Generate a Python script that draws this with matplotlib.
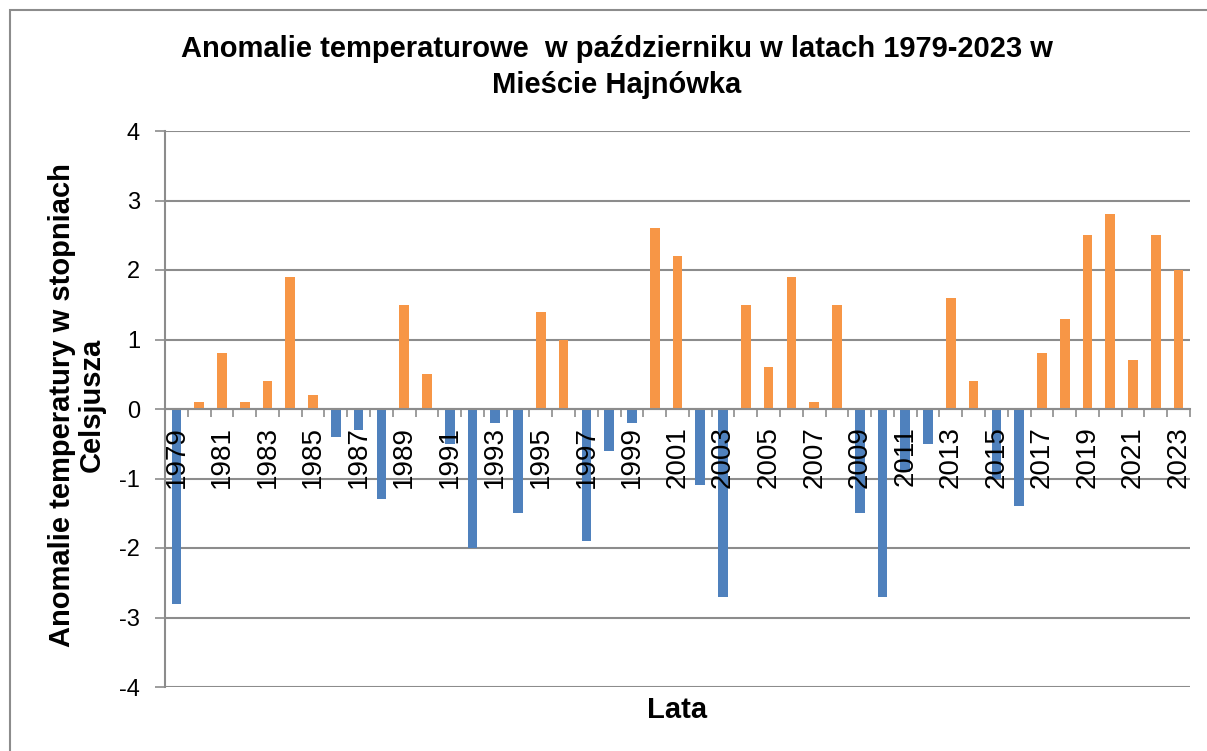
import numpy as np
import matplotlib.pyplot as plt
from matplotlib.patches import Rectangle

# dane: anomalie temperatury w październiku
years = list(range(1979, 2024))
anomalies = [-2.8, 0.1, 0.8, 0.1, 0.4, 1.9, 0.2, -0.4, -0.3, -1.3,
             1.5, 0.5, -0.5, -2.0, -0.2, -1.5, 1.4, 1.0, -1.9, -0.6,
             -0.2, 2.6, 2.2, -1.1, -2.7, 1.5, 0.6, 1.9, 0.1, 1.5,
             -1.5, -2.7, -0.9, -0.5, 1.6, 0.4, -1.0, -1.4, 0.8, 1.3,
             2.5, 2.8, 0.7, 2.5, 2.0]
y_ticks = [-4, -3, -2, -1, 0, 1, 2, 3, 4]

plt.rcParams['font.family'] = ['Liberation Sans', 'DejaVu Sans']

W, H = 1207, 751
fig = plt.figure(figsize=(W / 100, H / 100), dpi=100)
ax = fig.add_axes([165 / W, 1 - 687 / H, (1190 - 165) / W, (687 - 131) / H])

# ramka wykresu
fig.patches.append(Rectangle((10 / W, -0.1), 1.2, 1 - 10 / H + 0.1, transform=fig.transFigure,
                             fill=False, edgecolor='#8c8c8c', linewidth=1.5))

x = np.arange(len(years))
colors = ['#F79646' if v >= 0 else '#4F81BD' for v in anomalies]
ax.bar(x, anomalies, width=0.42, color=colors, zorder=2)

ax.set_xlim(-0.5, len(years) - 0.5)
ax.set_ylim(-4, 4)
ax.set_yticks(y_ticks)
ax.set_yticklabels([str(t) for t in y_ticks], fontsize=17)
ax.yaxis.grid(True, color='#8c8c8c', linewidth=1.5)
ax.tick_params(axis='y', direction='out', length=7, color='#8c8c8c', width=1.2, pad=11)
# siatka pod słupkami, etykiety lat nad słupkami
ax.yaxis.set_zorder(0.5)
ax.xaxis.set_zorder(5)

for s in ['top', 'right']:
    ax.spines[s].set_visible(False)
ax.spines['left'].set_color('#8c8c8c')
ax.spines['left'].set_linewidth(1.5)
ax.spines['bottom'].set_position(('data', 0))
ax.spines['bottom'].set_color('#8c8c8c')
ax.spines['bottom'].set_linewidth(1.5)
ax.spines['bottom'].set_zorder(4)

# znaczniki między kategoriami, etykiety co drugi rok
ax.set_xticks(np.arange(-0.5, len(years), 1.0))
ax.set_xticklabels([])
ax.tick_params(axis='x', which='major', direction='out', length=6, color='#8c8c8c', width=1.2)
ax.set_xticks(x[::2], minor=True)
ax.set_xticklabels([str(y) for y in years[::2]], minor=True, rotation=90, fontsize=20)
ax.tick_params(axis='x', which='minor', length=0, pad=12.5)

fig.text(617 / W, 1 - 67 / H,
         'Anomalie temperaturowe  w październiku w latach 1979-2023 w\nMieście Hajnówka',
         ha='center', va='center', fontsize=21, fontweight='bold', linespacing=1.4)
fig.text(77 / W, 1 - 405 / H, 'Anomalie temperatury w stopniach\nCelsjusza',
         rotation=90, ha='center', va='center', fontsize=21, fontweight='bold', linespacing=1.05)
fig.text(677 / W, 1 - 710 / H, 'Lata', ha='center', va='center', fontsize=21, fontweight='bold')

fig.savefig('out.png', dpi=100)
